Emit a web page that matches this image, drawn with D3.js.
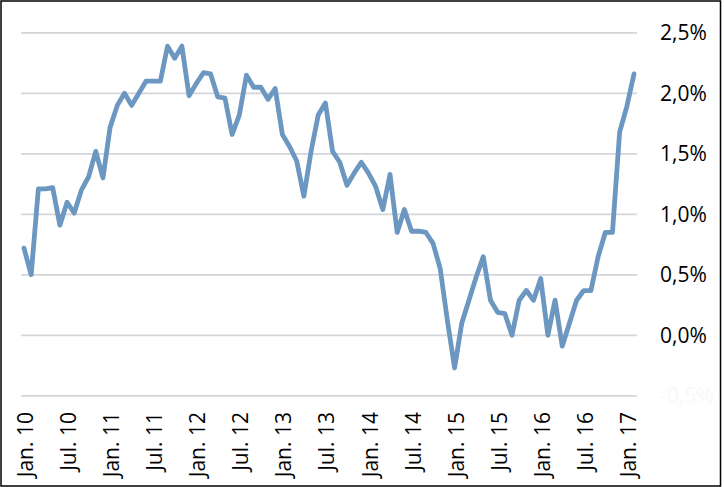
<!DOCTYPE html>
<html>
<head>
<meta charset="utf-8">
<script src="https://cdn.jsdelivr.net/npm/d3@7"></script>
<style>
    html, body { margin: 0; padding: 0; background: #fff; }
    .tick-label { font-family: "Open Sans", sans-serif; font-size: 21px; fill: #000; }
</style>
</head>
<body>
<div id="chart"></div>
<script>
// monthly values, Jan 2010 .. Feb 2017 (percent)
var values2010 = [0.72, 0.50, 1.21, 1.21, 1.22, 0.91, 1.10, 1.01, 1.20, 1.31, 1.52, 1.30];
var values2011 = [1.72, 1.90, 2.00, 1.90, 2.00, 2.10, 2.10, 2.10, 2.39, 2.29, 2.39, 1.98];
var values2012 = [2.08, 2.17, 2.16, 1.97, 1.96, 1.66, 1.82, 2.15, 2.05, 2.05, 1.95, 2.04];
var values2013 = [1.66, 1.56, 1.44, 1.15, 1.52, 1.82, 1.92, 1.52, 1.43, 1.24, 1.34, 1.43];
var values2014 = [1.34, 1.23, 1.04, 1.33, 0.85, 1.04, 0.86, 0.86, 0.85, 0.76, 0.55, 0.12];
var values2015 = [-0.27, 0.10, 0.29, 0.48, 0.65, 0.29, 0.19, 0.18, 0.00, 0.29, 0.37, 0.29];
var values2016 = [0.47, 0.00, 0.29, -0.09, 0.10, 0.29, 0.37, 0.37, 0.65, 0.85, 0.85, 1.68];
var values2017 = [1.89, 2.16];

var xLabels = ["Jan. 10", "Jul. 10", "Jan. 11", "Jul. 11", "Jan. 12", "Jul. 12", "Jan. 13", "Jul. 13",
    "Jan. 14", "Jul. 14", "Jan. 15", "Jul. 15", "Jan. 16", "Jul. 16", "Jan. 17"];
var yTicks = [-0.5, 0, 0.5, 1.0, 1.5, 2.0, 2.5];

var series = [].concat(values2010, values2011, values2012, values2013,
    values2014, values2015, values2016, values2017);

var width = 724;
var height = 487;
var plotLeft = 21;
var plotRight = 637;

var x = d3.scaleLinear()
    .domain([0, series.length - 1])
    .range([24, 634]);

var y = d3.scaleLinear()
    .domain([-0.5, 2.5])
    .range([395.8, 32.8]);

var svg = d3.select("#chart").append("svg")
    .attr("width", width)
    .attr("height", height);

svg.append("rect")
    .attr("x", 1)
    .attr("y", 1)
    .attr("width", 719.5)
    .attr("height", 485)
    .attr("fill", "#fff")
    .attr("stroke", "#000")
    .attr("stroke-width", 1.5);

// horizontal gridlines
svg.selectAll(".grid")
    .data(yTicks)
    .enter()
    .append("line")
    .attr("class", "grid")
    .attr("x1", plotLeft)
    .attr("x2", plotRight)
    .attr("y1", function(d) { return y(d); })
    .attr("y2", function(d) { return y(d); })
    .attr("stroke", "#d3d5d9")
    .attr("stroke-width", 1.8);

// y labels on the right, the lowest one is almost invisible in the original
svg.selectAll(".y-label")
    .data(yTicks)
    .enter()
    .append("text")
    .attr("class", "tick-label")
    .attr("x", 660)
    .attr("y", function(d) { return y(d); })
    .attr("dy", "0.36em")
    .style("fill", function(d) { return d < 0 ? "#f8f8f9" : "#000"; })
    .text(function(d) { return d3.format(".1f")(d).replace(".", ",").replace("−", "-") + "%"; });

// x labels, every six months, rotated
svg.selectAll(".x-label")
    .data(xLabels)
    .enter()
    .append("text")
    .attr("class", "tick-label")
    .attr("text-anchor", "end")
    .attr("dy", "0.36em")
    .attr("transform", function(d, i) {
        return "translate(" + (x(i * 6) + 1.5) + ",412) rotate(-90)";
    })
    .text(function(d) { return d; });

var line = d3.line()
    .x(function(d, i) { return x(i); })
    .y(function(d) { return y(d); });

svg.append("path")
    .datum(series)
    .attr("d", line)
    .attr("fill", "none")
    .attr("stroke", "#6b97c1")
    .attr("stroke-width", 4.8)
    .attr("stroke-linejoin", "round")
    .attr("stroke-linecap", "round");
</script>
</body>
</html>
